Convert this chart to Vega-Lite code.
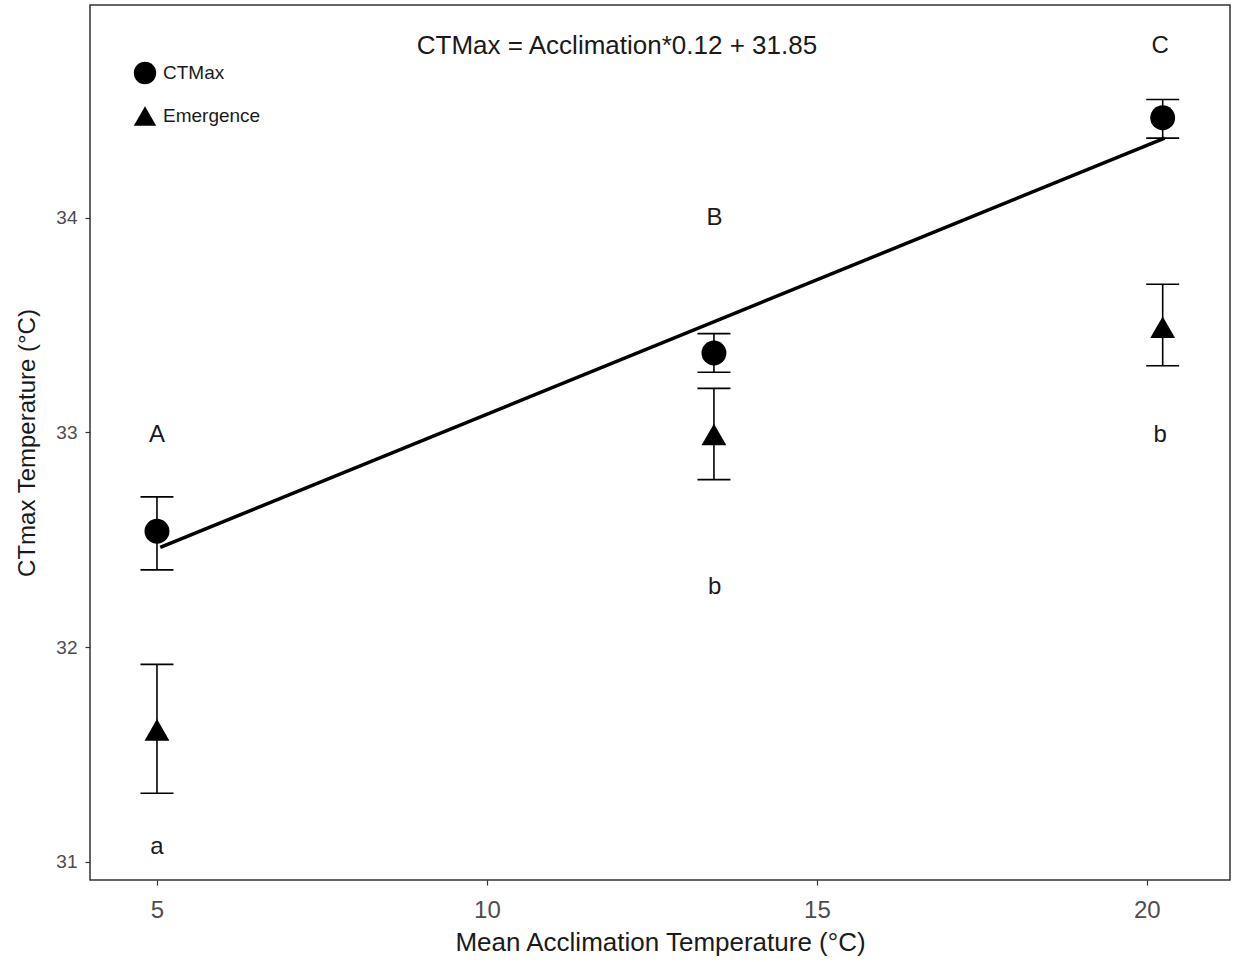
{
  "$schema": "https://vega.github.io/schema/vega-lite/v6.json",
  "autosize": "none",
  "padding": {"left": 90, "top": 5, "right": 5, "bottom": 82},
  "width": 1140,
  "height": 875,
  "background": "white",
  "config": {
    "view": {"stroke": "#333333", "strokeWidth": 1.5},
    "font": "Liberation Sans",
    "axis": {"grid": false, "domain": false, "tickColor": "#333333", "tickSize": 5, "tickWidth": 1.2, "labelColor": "#4d4d4d", "titleColor": "#1a1a1a", "titleFontWeight": "normal", "labelFont": "Liberation Sans", "titleFont": "Liberation Sans"}
  },
  "datasets": {
    "pts": [
      {"accl": 5, "series": "CTMax", "mean": 32.54, "lo": 32.36, "hi": 32.70},
      {"accl": 13.44, "series": "CTMax", "mean": 33.37, "lo": 33.28, "hi": 33.46},
      {"accl": 20.24, "series": "CTMax", "mean": 34.465, "lo": 34.37, "hi": 34.55},
      {"accl": 5, "series": "Emergence", "mean": 31.615, "lo": 31.32, "hi": 31.92},
      {"accl": 13.44, "series": "Emergence", "mean": 32.99, "lo": 32.78, "hi": 33.205},
      {"accl": 20.24, "series": "Emergence", "mean": 33.49, "lo": 33.31, "hi": 33.69}
    ],
    "fit": [
      {"accl": 5.05, "temp": 32.465},
      {"accl": 20.27, "temp": 34.37}
    ],
    "letters": [
      {"accl": 5, "temp": 32.99, "label": "A"},
      {"accl": 13.45, "temp": 34.0, "label": "B"},
      {"accl": 20.2, "temp": 34.8, "label": "C"},
      {"accl": 5, "temp": 31.07, "label": "a"},
      {"accl": 13.45, "temp": 32.28, "label": "b"},
      {"accl": 20.2, "temp": 32.99, "label": "b"}
    ],
    "eq": [
      {"accl": 11.97, "temp": 34.8, "label": "CTMax = Acclimation*0.12 + 31.85"}
    ]
  },
  "layer": [
    {
      "data": {"name": "fit"},
      "mark": {"type": "line", "color": "black", "strokeWidth": 3.5},
      "encoding": {
        "x": {"field": "accl", "type": "quantitative", "scale": {"domain": [3.985, 21.26], "nice": false, "zero": false}, "axis": {"values": [5, 10, 15, 20], "format": "d", "labelFontSize": 24, "labelPadding": 13, "title": "Mean Acclimation Temperature (°C)", "titleFontSize": 26, "titlePadding": 7}},
        "y": {"field": "temp", "type": "quantitative", "scale": {"domain": [30.916, 34.99], "nice": false, "zero": false}, "axis": {"values": [31, 32, 33, 34], "format": "d", "labelFontSize": 19, "labelPadding": 8, "title": "CTmax Temperature (°C)", "titleFontSize": 24, "titlePadding": 16}}
      }
    },
    {
      "data": {"name": "pts"},
      "mark": {"type": "rule", "color": "black", "strokeWidth": 1.6},
      "encoding": {
        "x": {"field": "accl", "type": "quantitative"},
        "y": {"field": "lo", "type": "quantitative"},
        "y2": {"field": "hi"}
      }
    },
    {
      "data": {"name": "pts"},
      "mark": {"type": "point", "shape": "M-1,0L1,0", "size": 1089, "filled": false, "stroke": "black", "strokeWidth": 1.6, "opacity": 1},
      "encoding": {
        "x": {"field": "accl", "type": "quantitative"},
        "y": {"field": "lo", "type": "quantitative"}
      }
    },
    {
      "data": {"name": "pts"},
      "mark": {"type": "point", "shape": "M-1,0L1,0", "size": 1089, "filled": false, "stroke": "black", "strokeWidth": 1.6, "opacity": 1},
      "encoding": {
        "x": {"field": "accl", "type": "quantitative"},
        "y": {"field": "hi", "type": "quantitative"}
      }
    },
    {
      "data": {"name": "pts"},
      "mark": {"type": "point", "filled": true, "color": "black", "opacity": 1, "size": 620},
      "encoding": {
        "x": {"field": "accl", "type": "quantitative"},
        "y": {"field": "mean", "type": "quantitative"},
        "shape": {"field": "series", "type": "nominal", "scale": {"domain": ["CTMax", "Emergence"], "range": ["circle", "triangle-up"]},
          "legend": {"title": null, "orient": "none", "legendX": 43, "legendY": 56, "labelFontSize": 19, "labelColor": "#1a1a1a", "symbolSize": 500, "symbolFillColor": "black", "symbolStrokeColor": "black", "rowPadding": 15, "labelOffset": 6}}
      }
    },
    {
      "data": {"name": "letters"},
      "mark": {"type": "text", "fontSize": 24, "color": "#1a1a1a", "baseline": "middle", "align": "center"},
      "encoding": {
        "x": {"field": "accl", "type": "quantitative"},
        "y": {"field": "temp", "type": "quantitative"},
        "text": {"field": "label"}
      }
    },
    {
      "data": {"name": "eq"},
      "mark": {"type": "text", "fontSize": 26, "color": "#1a1a1a", "baseline": "middle", "align": "center"},
      "encoding": {
        "x": {"field": "accl", "type": "quantitative"},
        "y": {"field": "temp", "type": "quantitative"},
        "text": {"field": "label"}
      }
    }
  ]
}
